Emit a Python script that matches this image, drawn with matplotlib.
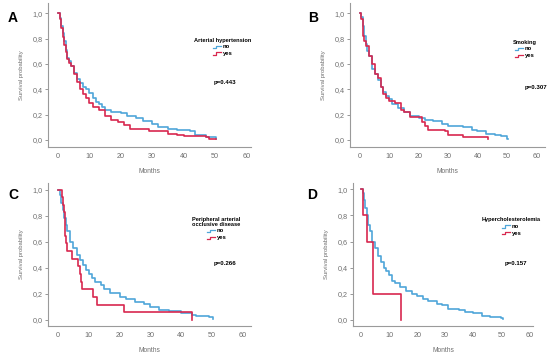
import matplotlib
matplotlib.use("Agg")
import matplotlib.pyplot as plt
from matplotlib.legend_handler import HandlerBase
from matplotlib.lines import Line2D
from matplotlib.ticker import FuncFormatter

plt.rcParams["font.family"] = ["Liberation Sans", "DejaVu Sans"]

# ---- data (time in months, survival) ----
a_no_t = [0, 0.5, 1, 1.5, 2, 2.5, 3, 3.5, 4, 5, 6, 7, 8, 9, 10, 11, 12, 13, 14, 15, 17, 20, 22, 25, 27, 30, 32, 35, 38, 42, 43.5, 47, 50.5]
a_no_s = [1.0, 0.96, 0.90, 0.84, 0.78, 0.71, 0.65, 0.62, 0.58, 0.53, 0.48, 0.45, 0.42, 0.40, 0.37, 0.33, 0.30, 0.28, 0.26, 0.24, 0.22, 0.21, 0.19, 0.17, 0.15, 0.13, 0.10, 0.09, 0.08, 0.07, 0.04, 0.02, 0.01]
a_yes_t = [0, 0.5, 1, 1.5, 2, 2.5, 3, 3.5, 4, 5, 6, 7, 8, 9, 10, 11, 13, 15, 17, 19, 21, 23, 29, 35, 38, 40, 44, 47, 48, 50.5]
a_yes_s = [1.0, 0.95, 0.88, 0.81, 0.75, 0.69, 0.64, 0.61, 0.58, 0.52, 0.46, 0.40, 0.36, 0.33, 0.29, 0.26, 0.24, 0.19, 0.16, 0.14, 0.12, 0.09, 0.07, 0.05, 0.04, 0.03, 0.03, 0.02, 0.01, 0.01]

b_no_t = [0, 0.5, 1, 1.5, 2, 2.5, 3, 4, 5, 6, 7, 8, 9, 10, 11, 13, 15, 17, 20, 22, 25, 28, 30, 35, 38, 40, 43, 46, 48, 50, 50.5]
b_no_s = [1.0, 0.97, 0.90, 0.82, 0.76, 0.70, 0.66, 0.56, 0.52, 0.47, 0.42, 0.38, 0.35, 0.32, 0.28, 0.25, 0.22, 0.19, 0.17, 0.16, 0.15, 0.13, 0.11, 0.10, 0.08, 0.07, 0.05, 0.04, 0.03, 0.01, 0.005]
b_yes_t = [0, 0.5, 1, 1.5, 2, 3, 4, 5, 6, 7, 8, 9, 10, 12, 14, 15, 17, 20, 21, 22, 23, 29, 30, 35, 43.5]
b_yes_s = [1.0, 0.95, 0.82, 0.78, 0.74, 0.66, 0.60, 0.52, 0.49, 0.42, 0.36, 0.33, 0.31, 0.29, 0.24, 0.22, 0.18, 0.18, 0.14, 0.11, 0.08, 0.07, 0.04, 0.02, 0.01]

c_no_t = [0, 0.5, 1, 1.5, 2, 2.5, 3, 4, 5, 6, 7, 8, 9, 10, 11, 12, 14, 15, 17, 20, 22, 25, 28, 30, 33, 36, 40, 43.5, 45, 47, 49, 50.5]
c_no_s = [1.0, 0.96, 0.90, 0.84, 0.78, 0.73, 0.68, 0.60, 0.55, 0.50, 0.46, 0.42, 0.38, 0.35, 0.32, 0.29, 0.27, 0.24, 0.21, 0.18, 0.16, 0.14, 0.12, 0.10, 0.08, 0.07, 0.05, 0.04, 0.03, 0.03, 0.02, 0.005]
c_yes_t = [0, 1.2, 1.6, 2.0, 2.1, 2.2, 2.3, 2.5, 3.0, 4.5, 6.5, 7.0, 7.3, 7.8, 11.5, 12.8, 21.5, 43.5]
c_yes_s = [1.0, 0.941, 0.882, 0.824, 0.765, 0.706, 0.647, 0.588, 0.529, 0.471, 0.412, 0.353, 0.294, 0.235, 0.176, 0.118, 0.059, 0.0]

d_no_t = [0, 0.5, 1, 1.5, 2, 2.5, 3, 4, 5, 6, 7, 8, 9, 10, 11, 12, 14, 16, 18, 20, 22, 24, 27, 29, 31, 35, 37, 40, 43, 46, 48, 50, 50.5]
d_no_s = [1.0, 0.97, 0.92, 0.86, 0.80, 0.73, 0.68, 0.60, 0.55, 0.49, 0.44, 0.40, 0.37, 0.34, 0.30, 0.28, 0.25, 0.22, 0.20, 0.18, 0.16, 0.14, 0.12, 0.11, 0.08, 0.07, 0.06, 0.05, 0.03, 0.02, 0.02, 0.01, 0.005]
d_yes_t = [0, 0.8, 2.0, 4.2, 14.2]
d_yes_s = [1.0, 0.8, 0.6, 0.2, 0.0]

panels = [
    ("A", "Arterial hypertension", "p=0.443", a_no_t, a_no_s, a_yes_t, a_yes_s),
    ("B", "Smoking", "p=0.307", b_no_t, b_no_s, b_yes_t, b_yes_s),
    ("C", "Peripheral arterial\nocclusive disease", "p=0.266", c_no_t, c_no_s, c_yes_t, c_yes_s),
    ("D", "Hypercholesterolemia", "p=0.157", d_no_t, d_no_s, d_yes_t, d_yes_s),
]
x_ticks = [0, 10, 20, 30, 40, 50, 60]
y_ticks = [0.0, 0.2, 0.4, 0.6, 0.8, 1.0]

BLUE = "#4fa6d9"
RED = "#d8284f"
GREY = "#6e6e6e"

W, H = 550, 357
# axes rectangles in pixels (left, top, right, bottom), limits, legend / p-value / letter spots
layout = {
    "A": dict(px=(48, 3, 251, 147), xlim=(-3.2, 61.5), ylim=(-0.055, 1.08),
              leg=(0.86, 0.76), p=(0.87, 0.45), letter=(8, 22)),
    "B": dict(px=(350, 3, 545, 147), xlim=(-3.4, 63.0), ylim=(-0.055, 1.08),
              leg=(0.895, 0.745), p=(0.955, 0.41), letter=(308, 22)),
    "C": dict(px=(48, 183, 251, 326), xlim=(-3.3, 62.8), ylim=(-0.046, 1.05),
              leg=(0.83, 0.765), p=(0.87, 0.44), letter=(8, 199)),
    "D": dict(px=(353, 183, 533, 326), xlim=(-2.9, 61.3), ylim=(-0.05, 1.05),
              leg=(0.88, 0.76), p=(0.905, 0.44), letter=(307, 199)),
}


class StepHandler(HandlerBase):
    """Little step glyph like the SPSS legend."""
    def create_artists(self, legend, orig, x0, y0, width, height, fontsize, trans):
        xs = [x0, x0 + width * 0.45, x0 + width * 0.45, x0 + width]
        ys = [y0 + height * 0.2, y0 + height * 0.2, y0 + height * 0.75, y0 + height * 0.75]
        ln = Line2D(xs, ys, color=orig.get_color(), lw=0.9, transform=trans)
        return [ln]


fig = plt.figure(figsize=(W / 100, H / 100), dpi=100)
fmt = FuncFormatter(lambda v, _: f"{v:.1f}".replace(".", ","))

for letter, title, pval, nt, ns, yt, ys in panels:
    L = layout[letter]
    l, t, r, b = L["px"]
    ax = fig.add_axes([l / W, 1 - b / H, (r - l) / W, (b - t) / H])
    h_no, = ax.step(nt, ns, where="post", color=BLUE, lw=1.2, label="no")
    h_yes, = ax.step(yt, ys, where="post", color=RED, lw=1.2, label="yes")
    ax.set_xlim(*L["xlim"])
    ax.set_ylim(*L["ylim"])
    ax.set_xticks(x_ticks)
    ax.set_yticks(y_ticks)
    ax.yaxis.set_major_formatter(fmt)
    for s in ("top", "right"):
        ax.spines[s].set_visible(False)
    for s in ("left", "bottom"):
        ax.spines[s].set_color("#9a9a9a")
        ax.spines[s].set_linewidth(0.8)
    ax.tick_params(labelsize=5.2, colors=GREY, length=2, width=0.5, pad=2)
    ax.tick_params(axis="x", length=0, pad=4)
    ax.set_xlabel("Months", fontsize=4.8, color=GREY, labelpad=6)
    ax.set_ylabel("Survival probability", fontsize=4.2, color=GREY, labelpad=6)
    leg = ax.legend([h_no, h_yes], ["no", "yes"], title=title, loc="upper center",
                    bbox_to_anchor=L["leg"], frameon=False, fontsize=4.2,
                    title_fontsize=4.1, handlelength=1.4, handleheight=0.6,
                    handletextpad=0.3, labelspacing=0.3, borderpad=0,
                    borderaxespad=0, handler_map={Line2D: StepHandler()})
    leg.get_title().set_fontweight("bold")
    leg.get_title().set_multialignment("center")
    leg.get_title().set_linespacing(1.0)
    for txt in leg.get_texts():
        txt.set_fontweight("bold")
    ax.text(*L["p"], pval, transform=ax.transAxes, fontsize=4.4,
            fontweight="bold", ha="center", va="center")
    lx, ly = L["letter"]
    fig.text(lx / W, 1 - ly / H, letter, fontsize=10, fontweight="bold")

fig.savefig("out.png", dpi=100)
